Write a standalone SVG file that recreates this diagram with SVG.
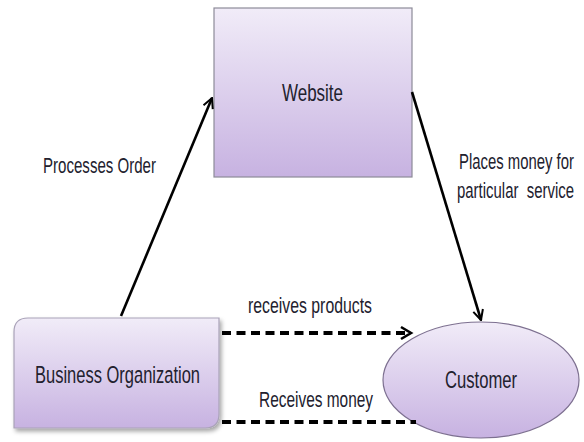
<svg xmlns="http://www.w3.org/2000/svg" width="584" height="442" viewBox="0 0 584 442">
  <style>
    .node { stroke-width: 1.2; }
    .lbl { font-family: "Liberation Sans", Arial, sans-serif; fill: #22212e; }
    .nlbl { font-size: 17px; }
    .elbl { font-size: 15.5px; }
    .solid { stroke: #000; stroke-width: 2.6; fill: none; }
    .dash { stroke: #000; stroke-width: 4.2; fill: none; stroke-dasharray: 9 5.5; }
  </style>
  <defs>
    <linearGradient id="fill" x1="0" y1="0" x2="0" y2="1">
      <stop offset="0" stop-color="#f1ecf8"/>
      <stop offset="1" stop-color="#c7b2e1"/>
    </linearGradient>
    <filter id="shadow" x="-10%" y="-10%" width="125%" height="130%">
      <feDropShadow dx="2" dy="3" stdDeviation="2" flood-color="#000" flood-opacity="0.35"/>
    </filter>
    <marker id="arrow" viewBox="0 0 12 12" refX="11" refY="6" markerWidth="12" markerHeight="12" markerUnits="userSpaceOnUse" orient="auto">
      <path d="M1,1 L11,6 L1,11" fill="none" stroke="#000" stroke-width="2"/>
    </marker>
  </defs>

  <g id="website">
    <rect class="node" x="214" y="8" width="198" height="169" fill="url(#fill)" stroke="#8d8b98"/>
    <text class="lbl nlbl" transform="translate(282,101) scale(1,1.45)" textLength="61" lengthAdjust="spacingAndGlyphs">Website</text>
  </g>

  <g id="business">
    <path class="node" d="M28,318 H219 V414 Q219,428 205,428 H14 V332 Q14,318 28,318 Z" fill="url(#fill)" stroke="#a9a2b8" filter="url(#shadow)"/>
    <text class="lbl nlbl" transform="translate(35,383) scale(1,1.45)" textLength="165" lengthAdjust="spacingAndGlyphs">Business Organization</text>
  </g>

  <g id="customer">
    <ellipse class="node" cx="481" cy="380" rx="98" ry="58" fill="url(#fill)" stroke="#7d7090"/>
    <text class="lbl nlbl" transform="translate(445,388) scale(1,1.45)" textLength="72" lengthAdjust="spacingAndGlyphs">Customer</text>
  </g>

  <g id="connectors">
    <line class="solid" x1="121" y1="316" x2="212" y2="98" marker-end="url(#arrow)"/>
    <line class="solid" x1="412" y1="92" x2="481" y2="320" marker-end="url(#arrow)"/>
    <line class="dash" x1="222" y1="333" x2="408" y2="333"/>
    <path d="M401,327 L411,333 L401,339" fill="none" stroke="#000" stroke-width="2.6"/>
    <line class="dash" x1="222" y1="422" x2="416" y2="422"/>
  </g>

  <g id="labels">
    <text class="lbl elbl" transform="translate(43,173) scale(1,1.4)" textLength="113" lengthAdjust="spacingAndGlyphs">Processes Order</text>
    <text class="lbl elbl" transform="translate(459,169) scale(1,1.4)" textLength="115" lengthAdjust="spacingAndGlyphs">Places money for</text>
    <text class="lbl elbl" transform="translate(457,198) scale(1,1.4)" textLength="117" lengthAdjust="spacingAndGlyphs" style="white-space:pre">particular  service</text>
    <text class="lbl elbl" transform="translate(248,313) scale(1,1.4)" textLength="124" lengthAdjust="spacingAndGlyphs">receives products</text>
    <text class="lbl elbl" transform="translate(259,407) scale(1,1.4)" textLength="114" lengthAdjust="spacingAndGlyphs">Receives money</text>
  </g>
</svg>
